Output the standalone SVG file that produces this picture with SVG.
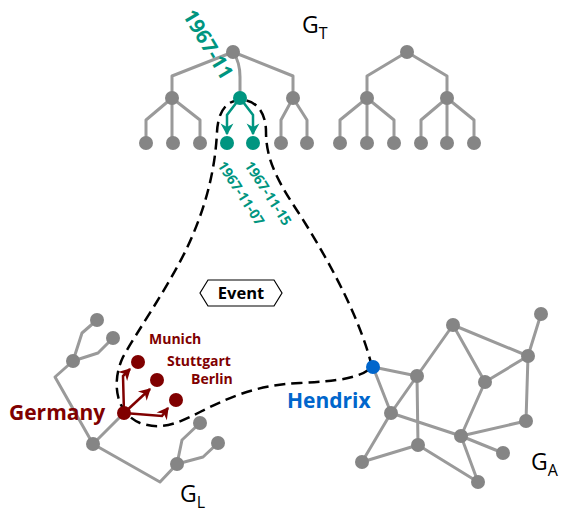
<svg xmlns="http://www.w3.org/2000/svg" width="562" height="515" viewBox="0 0 562 515">
<style>
.e{fill:none;stroke:#9a9a9a;stroke-width:3;stroke-linejoin:round}
.n{fill:#858585}
.t{fill:#009580}
.r{fill:#800000}
.lbl{font-family:"Open Sans","DejaVu Sans",sans-serif;font-weight:bold}
.g{font-family:"Open Sans","DejaVu Sans",sans-serif;font-size:23px;fill:#000}
.gs{font-size:16px}
</style>
<defs>
<marker id="at" markerUnits="userSpaceOnUse" markerWidth="14" markerHeight="14" viewBox="-10 -6 12 12" refX="0" refY="0" orient="auto"><path d="M1,0 L-9,-5.5 L-6,0 L-9,5.5 z" fill="#009580"/></marker>
<marker id="ar" markerUnits="userSpaceOnUse" markerWidth="14" markerHeight="14" viewBox="-10 -6 12 12" refX="0" refY="0" orient="auto"><path d="M1,0 L-9,-5.5 L-6,0 L-9,5.5 z" fill="#800000"/></marker>
</defs>
<g id="connectors">
<path class="e" d="M233,52 L172,76 L172,98 M233,52 L293,76 L293,98 M233,52 Q240,62 240,77 L240,98"/>
<path class="e" d="M172,98 L146,120 L146,143 M172,98 L172,143 M172,98 L200,120 L200,143"/>
<path class="e" d="M293,98 L281,120 L281,143 M293,98 L307,120 L307,143"/>
<path class="e" d="M407,52 L367,76 L367,98 M407,52 L447,76 L447,98"/>
<path class="e" d="M367,98 L340,120 L340,143 M367,98 L367,143 M367,98 L394,120 L394,143"/>
<path class="e" d="M447,98 L421,120 L421,143 M447,98 L447,143 M447,98 L474,120 L474,143"/>
<path class="e" d="M97,320 L82,333 L73,361 M113,338 L98,353 L73,361 M73,361 L55,377 L93,444 M124,413 L93,444 M93,444 L160,482 L177,464 M177,464 L182,440 L200,423 M177,464 L203,457 L218,443"/>
<path class="e" d="M373,367 L417,376 M373,367 L391,413 M417,376 L453,325 M391,413 L417,376 M417,376 L418,445 M453,325 L485,382 M453,325 L528,356 M528,356 L541,314 M528,356 L485,382 M528,356 L526,421 M485,382 L461,436 M526,421 L461,436 M391,413 L461,436 M461,436 L503,453 M461,436 L478,482 M391,413 L362,462 M362,462 L418,445 M418,445 L478,482"/>
<path d="M240,98 L227,115 L227,134" fill="none" stroke="#009580" stroke-width="2.5" marker-end="url(#at)"/>
<path d="M240,98 L253,115 L253,134" fill="none" stroke="#009580" stroke-width="2.5" marker-end="url(#at)"/>
<path d="M124,413 L123,376 L130,369" fill="none" stroke="#800000" stroke-width="2.5" marker-end="url(#ar)"/>
<path d="M124,413 L150,389" fill="none" stroke="#800000" stroke-width="2.5" marker-end="url(#ar)"/>
<path d="M124,413 L162,416 L168,408" fill="none" stroke="#800000" stroke-width="2.5" marker-end="url(#ar)"/>
<path d="M372,367 C362,325 335,270 300,215 C278,182 266,160 266,132 C266,112 256,100 241,100 C226,100 218,112 217,132 C215,175 203,215 185,252 C165,292 138,330 123,357 C112,380 114,412 140,423 C160,430 175,425 200,412 C228,398 255,385 300,383 C340,381 360,378 372,367" fill="none" stroke="#000" stroke-width="2.5" stroke-dasharray="11,6"/>
</g>
<g id="GT-nodes">
<circle class="n" cx="233" cy="52" r="7"/>
<circle class="n" cx="172" cy="98" r="7"/>
<circle class="n" cx="293" cy="98" r="7"/>
<circle class="n" cx="146" cy="143" r="7"/>
<circle class="n" cx="173" cy="143" r="7"/>
<circle class="n" cx="200" cy="143" r="7"/>
<circle class="n" cx="281" cy="143" r="7"/>
<circle class="n" cx="307" cy="143" r="7"/>
<circle class="n" cx="407" cy="52" r="7"/>
<circle class="n" cx="367" cy="98" r="7"/>
<circle class="n" cx="447" cy="98" r="7"/>
<circle class="n" cx="340" cy="143" r="7"/>
<circle class="n" cx="367" cy="143" r="7"/>
<circle class="n" cx="394" cy="143" r="7"/>
<circle class="n" cx="421" cy="143" r="7"/>
<circle class="n" cx="447" cy="143" r="7"/>
<circle class="n" cx="474" cy="143" r="7"/>
</g>
<g id="month-1967-11"><circle class="t" cx="240" cy="98" r="7"/></g>
<g id="day-1967-11-07"><circle class="t" cx="227" cy="143" r="7"/></g>
<g id="day-1967-11-15"><circle class="t" cx="253" cy="143" r="7"/></g>
<g id="GL-nodes">
<circle class="n" cx="97" cy="320" r="7"/>
<circle class="n" cx="113" cy="338" r="7"/>
<circle class="n" cx="73" cy="361" r="7"/>
<circle class="n" cx="93" cy="444" r="7"/>
<circle class="n" cx="200" cy="423" r="7"/>
<circle class="n" cx="218" cy="443" r="7"/>
<circle class="n" cx="177" cy="464" r="7"/>
</g>
<g id="germany"><circle class="r" cx="124" cy="413" r="7"/></g>
<g id="munich"><circle class="r" cx="138" cy="362" r="7"/></g>
<g id="stuttgart"><circle class="r" cx="157" cy="380" r="7"/></g>
<g id="berlin"><circle class="r" cx="176" cy="400" r="7"/></g>
<g id="GA-nodes">
<circle class="n" cx="453" cy="325" r="7"/>
<circle class="n" cx="541" cy="314" r="7"/>
<circle class="n" cx="528" cy="356" r="7"/>
<circle class="n" cx="417" cy="376" r="7"/>
<circle class="n" cx="485" cy="382" r="7"/>
<circle class="n" cx="391" cy="413" r="7"/>
<circle class="n" cx="526" cy="421" r="7"/>
<circle class="n" cx="461" cy="436" r="7"/>
<circle class="n" cx="418" cy="445" r="7"/>
<circle class="n" cx="503" cy="453" r="7"/>
<circle class="n" cx="362" cy="462" r="7"/>
<circle class="n" cx="478" cy="482" r="7"/>
</g>
<g id="hendrix"><circle cx="373" cy="367" r="7" fill="#0066cc"/></g>
<g id="event">
<path d="M200,293 L208,280 L274,280 L282,293 L274,306 L208,306 Z" fill="#fff" stroke="#000" stroke-width="1.2"/>
<text class="lbl" x="241" y="299" font-size="16.5" text-anchor="middle" fill="#000">Event</text>
</g>
<g id="labels">
<text class="g" x="302" y="33">G<tspan class="gs" dy="6">T</tspan></text>
<text class="g" x="180" y="502">G<tspan class="gs" dy="6">L</tspan></text>
<text class="g" x="531" y="470">G<tspan class="gs" dy="6">A</tspan></text>
<text class="lbl" font-size="20.5" fill="#009580" text-anchor="middle" transform="translate(202,48) rotate(59)">1967-11</text>
<text class="lbl" font-size="14" fill="#009580" text-anchor="middle" transform="translate(237,196) rotate(57)">1967-11-07</text>
<text class="lbl" font-size="14" fill="#009580" text-anchor="middle" transform="translate(264,196) rotate(57)">1967-11-15</text>
<text class="lbl" font-size="21" fill="#800000" x="9" y="420">Germany</text>
<text class="lbl" font-size="14" fill="#800000" x="149" y="344">Munich</text>
<text class="lbl" font-size="14" fill="#800000" x="167" y="366">Stuttgart</text>
<text class="lbl" font-size="14" fill="#800000" x="191" y="384">Berlin</text>
<text class="lbl" font-size="21" fill="#0066cc" x="287" y="408">Hendrix</text>
</g>
</svg>
